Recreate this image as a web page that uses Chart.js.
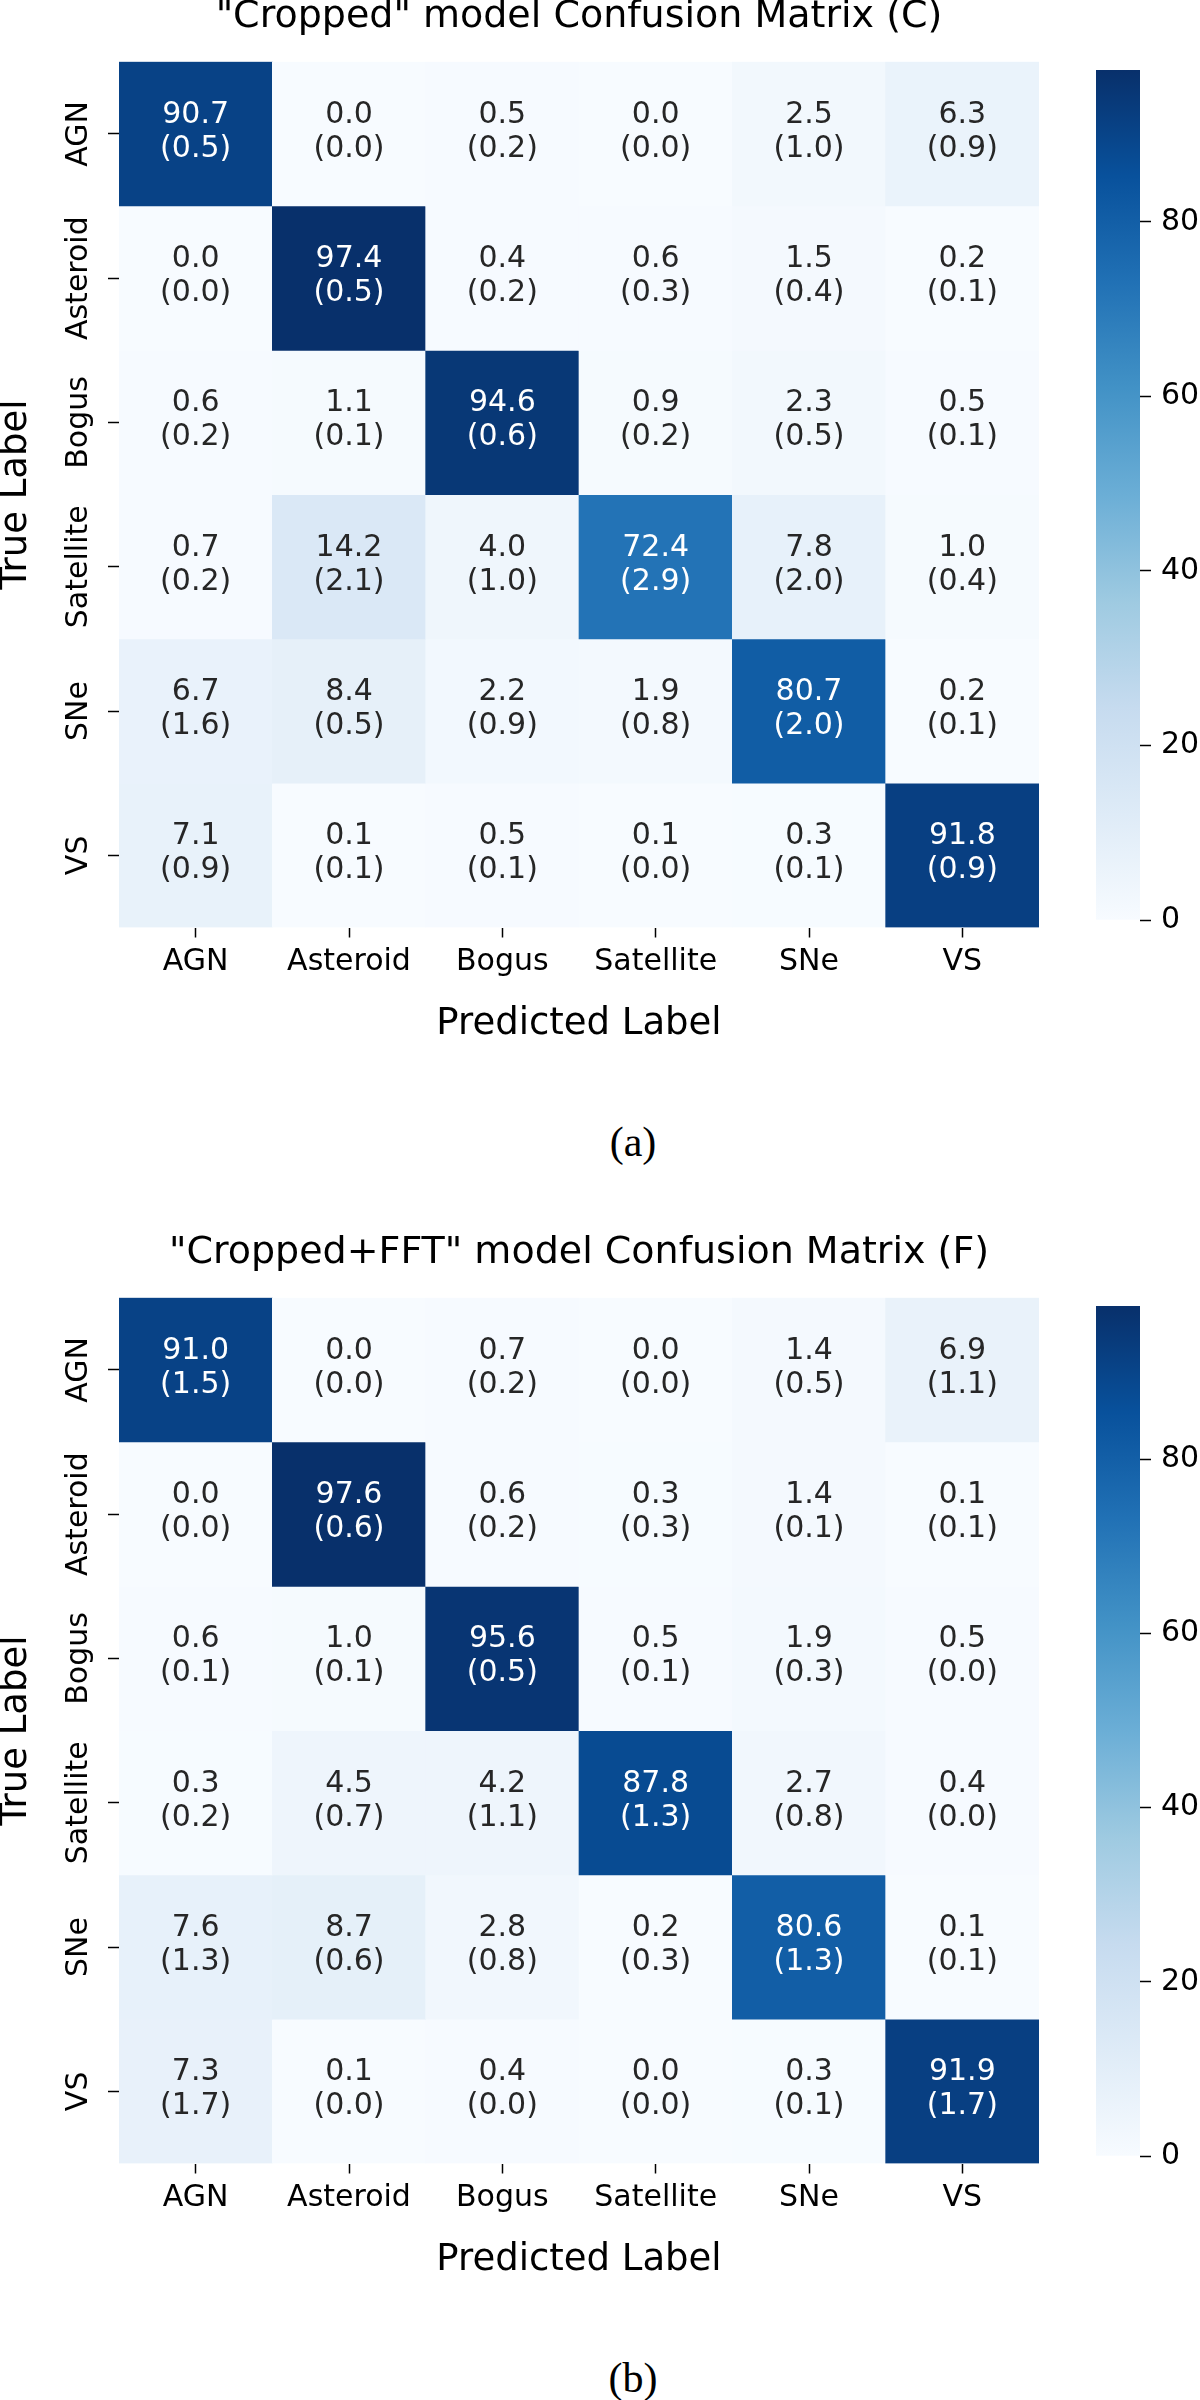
<!DOCTYPE html>
<html lang="en">
<head>
    <meta charset="UTF-8">
    <title>Confusion Matrices</title>
    <script src="https://cdn.jsdelivr.net/npm/chart.js"></script>
    <style>
        * { margin: 0; padding: 0; box-sizing: border-box; }
        body { width: 1200px; height: 2400px; background: #fff; position: relative; overflow: hidden; }
        .panel { position: absolute; left: 0; width: 1200px; height: 1236px; }
        .panel canvas { position: absolute; }
        .heat { left: 0; top: -10px; }
        .cbar { left: 1090px; top: 41.7px; }
        .caption {
            position: absolute; left: 533px; width: 200px; top: 1121px;
            text-align: center; font: 42px/42px 'Liberation Serif', serif; color: #000;
        }
    </style>
</head>
<body>
    <div class="panel" id="panelA" style="top:0">
        <canvas class="heat" id="heatA" width="1060" height="1057"></canvas>
        <canvas class="cbar" id="cbarA" width="110" height="906"></canvas>
        <div class="caption">(a)</div>
    </div>
    <div class="panel" id="panelB" style="top:1236px">
        <canvas class="heat" id="heatB" width="1060" height="1057"></canvas>
        <canvas class="cbar" id="cbarB" width="110" height="906"></canvas>
        <div class="caption">(b)</div>
    </div>

    <script>
        const predLabels = ['AGN', 'Asteroid', 'Bogus', 'Satellite', 'SNe', 'VS'];
        const trueLabels = ['AGN', 'Asteroid', 'Bogus', 'Satellite', 'SNe', 'VS'];

        // "Cropped" model (C): mean and std, rows = true label
        const meanC = [
            [90.7, 0.0, 0.5, 0.0, 2.5, 6.3],
            [0.0, 97.4, 0.4, 0.6, 1.5, 0.2],
            [0.6, 1.1, 94.6, 0.9, 2.3, 0.5],
            [0.7, 14.2, 4.0, 72.4, 7.8, 1.0],
            [6.7, 8.4, 2.2, 1.9, 80.7, 0.2],
            [7.1, 0.1, 0.5, 0.1, 0.3, 91.8]
        ];
        const stdC = [
            [0.5, 0.0, 0.2, 0.0, 1.0, 0.9],
            [0.0, 0.5, 0.2, 0.3, 0.4, 0.1],
            [0.2, 0.1, 0.6, 0.2, 0.5, 0.1],
            [0.2, 2.1, 1.0, 2.9, 2.0, 0.4],
            [1.6, 0.5, 0.9, 0.8, 2.0, 0.1],
            [0.9, 0.1, 0.1, 0.0, 0.1, 0.9]
        ];

        // "Cropped+FFT" model (F)
        const meanF = [
            [91.0, 0.0, 0.7, 0.0, 1.4, 6.9],
            [0.0, 97.6, 0.6, 0.3, 1.4, 0.1],
            [0.6, 1.0, 95.6, 0.5, 1.9, 0.5],
            [0.3, 4.5, 4.2, 87.8, 2.7, 0.4],
            [7.6, 8.7, 2.8, 0.2, 80.6, 0.1],
            [7.3, 0.1, 0.4, 0.0, 0.3, 91.9]
        ];
        const stdF = [
            [1.5, 0.0, 0.2, 0.0, 0.5, 1.1],
            [0.0, 0.6, 0.2, 0.3, 0.1, 0.1],
            [0.1, 0.1, 0.5, 0.1, 0.3, 0.0],
            [0.2, 0.7, 1.1, 1.3, 0.8, 0.0],
            [1.3, 0.6, 0.8, 0.3, 1.3, 0.1],
            [1.7, 0.0, 0.0, 0.0, 0.1, 1.7]
        ];

        const cbarTicks = [0, 20, 40, 60, 80];

        // matplotlib "Blues"
        const blues = ['#f7fbff', '#deebf7', '#c6dbef', '#9ecae1', '#6baed6',
                       '#4292c6', '#2171b5', '#08519c', '#08306b'];

        const FONT = "'DejaVu Sans', sans-serif";
        const INK = '#000';
        const ANNOT_DARK = '#262626';

        function hexToRgb(h) {
            return [1, 3, 5].map(i => parseInt(h.substr(i, 2), 16));
        }

        function bluesAt(t) {
            t = Math.max(0, Math.min(1, t));
            const pos = t * (blues.length - 1);
            const i = Math.min(Math.floor(pos), blues.length - 2);
            const f = pos - i;
            const a = hexToRgb(blues[i]), b = hexToRgb(blues[i + 1]);
            return a.map((v, k) => Math.round(v + (b[k] - v) * f));
        }

        function luminance(rgb) {
            const lin = rgb.map(v => {
                v /= 255;
                return v <= 0.03928 ? v / 12.92 : Math.pow((v + 0.055) / 1.055, 2.4);
            });
            return 0.2126 * lin[0] + 0.7152 * lin[1] + 0.0722 * lin[2];
        }

        // writes "mean" and "(std)" into each cell
        const annotatePlugin = {
            id: 'annotate',
            afterDatasetsDraw(chart) {
                const { ctx } = chart;
                const means = chart.options.plugins.annotate.means;
                const stds = chart.options.plugins.annotate.stds;
                const vmax = chart.options.plugins.annotate.vmax;
                ctx.save();
                ctx.font = '30px ' + FONT;
                ctx.textAlign = 'center';
                ctx.textBaseline = 'middle';
                chart.data.datasets.forEach((ds, r) => {
                    chart.getDatasetMeta(r).data.forEach((el, c) => {
                        const rgb = bluesAt(means[r][c] / vmax);
                        ctx.fillStyle = luminance(rgb) > 0.408 ? ANNOT_DARK : '#fff';
                        const yMid = (el.y + el.base) / 2;
                        ctx.fillText(means[r][c].toFixed(1), el.x, yMid - 19);
                        ctx.fillText('(' + stds[r][c].toFixed(1) + ')', el.x, yMid + 15);
                    });
                });
                ctx.restore();
            }
        };

        function drawPanel(heatId, cbarId, title, means, stds) {
            const vmax = Math.max(...means.flat());

            new Chart(document.getElementById(heatId), {
                type: 'bar',
                data: {
                    labels: predLabels,
                    datasets: trueLabels.map((name, r) => ({
                        label: name,
                        data: predLabels.map(() => [r, r + 1]),
                        backgroundColor: means[r].map(v => 'rgb(' + bluesAt(v / vmax).join(',') + ')'),
                        borderWidth: 0,
                        grouped: false,
                        barPercentage: 1,
                        categoryPercentage: 1
                    }))
                },
                options: {
                    responsive: false,
                    animation: false,
                    layout: { padding: { left: 0, right: 21, top: 0, bottom: 0 } },
                    plugins: {
                        legend: { display: false },
                        tooltip: { enabled: false },
                        title: {
                            display: true,
                            text: title,
                            fullSize: false,
                            color: INK,
                            font: { family: FONT, size: 38, weight: 'normal', lineHeight: 1.2 },
                            padding: { top: 4.2, bottom: 21.9 }
                        },
                        annotate: { means, stds, vmax }
                    },
                    scales: {
                        x: {
                            type: 'category',
                            offset: true,
                            afterFit: s => { s.height = 119.5; },
                            border: { display: false },
                            grid: { offset: false, drawOnChartArea: false, tickLength: 10, tickColor: INK, tickWidth: 1.5 },
                            ticks: { color: INK, font: { family: FONT, size: 30 }, padding: 7, maxRotation: 0, minRotation: 0, autoSkip: false },
                            title: { display: true, text: 'Predicted Label', color: INK, padding: 0,
                                     font: { family: FONT, size: 37, lineHeight: 1.2 } }
                        },
                        y: {
                            type: 'linear',
                            min: 0,
                            max: trueLabels.length,
                            reverse: true,
                            afterBuildTicks: s => { s.ticks = trueLabels.map((_, i) => ({ value: i + 0.5 })); },
                            afterFit: s => { s.width = 119; },
                            border: { display: false },
                            grid: { drawOnChartArea: false, tickLength: 11, tickColor: INK, tickWidth: 1.5 },
                            ticks: {
                                color: INK, font: { family: FONT, size: 30 },
                                callback: (v, i) => trueLabels[i],
                                minRotation: 90, maxRotation: 90,
                                crossAlign: 'center', padding: -33, autoSkip: false
                            },
                            title: { display: true, text: 'True Label', color: INK, padding: 0,
                                     font: { family: FONT, size: 37, lineHeight: 0.9 } }
                        }
                    }
                },
                plugins: [annotatePlugin]
            });

            new Chart(document.getElementById(cbarId), {
                type: 'bar',
                data: {
                    labels: [''],
                    datasets: [{
                        data: [vmax],
                        borderWidth: 0,
                        barPercentage: 1,
                        categoryPercentage: 1,
                        backgroundColor: ctx => {
                            const area = ctx.chart.chartArea;
                            if (!area) return blues[0];
                            const g = ctx.chart.ctx.createLinearGradient(0, area.bottom, 0, area.top);
                            blues.forEach((c, i) => g.addColorStop(i / (blues.length - 1), c));
                            return g;
                        }
                    }]
                },
                options: {
                    responsive: false,
                    animation: false,
                    layout: { padding: { left: 6, right: 0, top: 20, bottom: 20 } },
                    plugins: { legend: { display: false }, tooltip: { enabled: false } },
                    scales: {
                        x: { display: false },
                        y: {
                            position: 'right',
                            min: 0,
                            max: vmax,
                            afterBuildTicks: s => { s.ticks = cbarTicks.map(v => ({ value: v })); },
                            afterFit: s => { s.width = 60; },
                            border: { display: false },
                            grid: { drawOnChartArea: false, tickLength: 11, tickColor: INK, tickWidth: 1.5 },
                            ticks: { color: INK, font: { family: FONT, size: 30 }, padding: 10 }
                        }
                    }
                }
            });
        }

        drawPanel('heatA', 'cbarA', '"Cropped" model Confusion Matrix (C)', meanC, stdC);
        drawPanel('heatB', 'cbarB', '"Cropped+FFT" model Confusion Matrix (F)', meanF, stdF);
    </script>
</body>
</html>
